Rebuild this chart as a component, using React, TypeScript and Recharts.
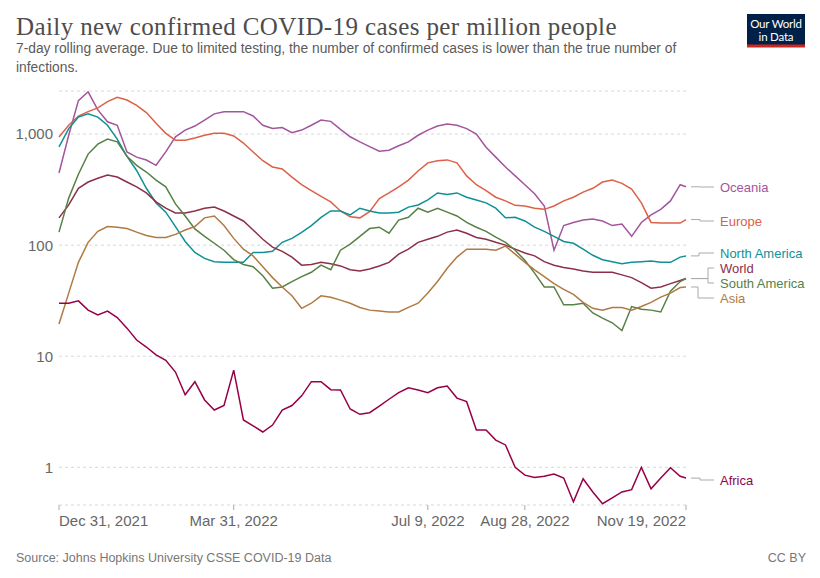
import { CartesianGrid, Line, LineChart, XAxis, YAxis } from 'recharts';

// days since Dec 31, 2021
const days = [
  0, 5, 10, 15, 20, 25, 30, 35, 40, 45, 50, 55, 60, 65, 70, 75, 80, 85, 90, 95, 100, 105, 110, 115, 120, 125, 130, 135,
  140, 145, 150, 155, 160, 165, 170, 175, 180, 185, 190, 195, 200, 205, 210, 215, 220, 225, 230, 235, 240, 245, 250, 255,
  260, 265, 270, 275, 280, 285, 290, 295, 300, 305, 310, 315, 320, 323,
];

const oceania = [
  446, 975, 2000, 2400, 1650, 1290, 1200, 690, 620, 583, 523, 690, 945, 1085, 1180, 1337, 1520, 1590, 1590, 1590, 1455, 1200,
  1120, 1145, 1030, 1085, 1200, 1337, 1300, 1100, 945, 850, 770, 700, 715, 785, 850, 975, 1085, 1180, 1230, 1200, 1120, 1000,
  760, 620, 505, 420, 350, 290, 225, 90, 150, 160, 168, 172, 165, 150, 155, 120, 160, 187, 210, 250, 350, 335,
];
const europe = [
  940, 1200, 1450, 1590, 1720, 1960, 2140, 2025, 1815, 1560, 1250, 1015, 880, 880, 920, 975, 1015, 1015, 960, 830, 690, 575,
  505, 485, 410, 350, 310, 275, 245, 203, 180, 176, 200, 262, 295, 335, 385, 465, 550, 575, 585, 550, 420, 350, 310, 270, 250,
  228, 225, 215, 210, 225, 250, 270, 300, 325, 370, 385, 360, 320, 240, 160, 158, 158, 158, 170,
];
const northAmerica = [
  765, 1120, 1420, 1520, 1420, 1200, 900, 630, 470, 325, 240, 198, 147, 108, 86, 76, 71, 70, 70, 70, 86, 86, 88, 106, 115, 130,
  150, 178, 203, 203, 187, 215, 203, 195, 195, 198, 220, 230, 255, 295, 285, 295, 270, 255, 240, 215, 176, 178, 165, 145, 133,
  120, 108, 104, 92, 81, 74, 71, 68, 70, 71, 72, 70, 70, 78, 80,
];
const world = [
  176, 230, 325, 370, 400, 428, 410, 370, 335, 295, 245, 215, 195, 195, 203, 215, 220, 203, 183, 165, 137, 113, 96, 88, 78, 66,
  67, 70, 68, 65, 60, 58.5, 61, 65, 70, 83, 92, 106, 113, 120, 131, 137, 128, 117, 113, 106, 100, 92, 85, 80, 71, 66, 63, 61,
  58.5, 57, 57, 57, 54, 51, 46, 41, 42, 45, 48, 50,
];
const southAmerica = [
  131, 265, 435, 660, 810, 900, 850, 630, 523, 455, 385, 335, 235, 183, 140, 120, 104, 90, 74, 67, 64, 53, 41, 42, 47, 52, 57,
  66, 60, 90, 102, 120, 141, 145, 128, 168, 178, 215, 198, 215, 198, 183, 160, 145, 133, 118, 106, 90, 73, 56, 42, 42, 29, 29,
  30, 24.5, 22, 20, 17, 28, 26.5, 26, 25, 38.5, 47, 50,
];
const asia = [
  19.5, 37, 70, 106, 133, 147, 145, 141, 131, 122, 117, 117, 125, 137, 147, 176, 183, 150, 115, 92, 80, 64, 51, 42, 35, 27, 30,
  35, 34, 32, 30, 27.5, 26, 25.5, 25, 25, 27.5, 30, 37, 47, 62, 78, 92, 92, 92, 90, 98, 83, 70, 60, 52, 45, 40, 36, 30.5, 27,
  26, 27.5, 27.5, 26, 28, 30.5, 34, 37, 41.5, 42,
];
const africa = [
  30, 30, 31.5, 26, 23.5, 25.5, 22.3, 17.9, 14, 12.1, 10.3, 9.2, 7.2, 4.5, 5.9, 4.04, 3.28, 3.6, 7.5, 2.67, 2.36, 2.08, 2.4,
  3.28, 3.6, 4.4, 5.9, 5.9, 5, 4.97, 3.35, 3, 3.1, 3.55, 4.1, 4.7, 5.2, 4.97, 4.7, 5.2, 5.4, 4.2, 3.9, 2.17, 2.17, 1.76, 1.59,
  1, 0.85, 0.81, 0.83, 0.87, 0.8, 0.49, 0.79, 0.6, 0.47, 0.53, 0.6, 0.63, 1, 0.64, 0.8, 0.99, 0.83, 0.8,
];

const tickDays = [0, 90, 190, 240, 323];
const tickLabels = ['Dec 31, 2021', 'Mar 31, 2022', 'Jul 9, 2022', 'Aug 28, 2022', 'Nov 19, 2022'];
const yTicks = [1, 10, 100, 1000];

const series = [
  { key: 'oceania', name: 'Oceania', values: oceania, color: '#a2559c', labelY: 187, elbow: 700 },
  { key: 'europe', name: 'Europe', values: europe, color: '#dd6048', labelY: 221, elbow: 700 },
  { key: 'northAmerica', name: 'North America', values: northAmerica, color: '#0f9094', labelY: 253, elbow: 699 },
  { key: 'world', name: 'World', values: world, color: '#8c3049', labelY: 268, elbow: 708 },
  { key: 'southAmerica', name: 'South America', values: southAmerica, color: '#578145', labelY: 283, elbow: 708 },
  { key: 'asia', name: 'Asia', values: asia, color: '#b07a42', labelY: 298, elbow: 698 },
  { key: 'africa', name: 'Africa', values: africa, color: '#970046', labelY: 480, elbow: 700 },
];

const data = days.map((day, i) => {
  const row: Record<string, number> = { day };
  series.forEach((s) => {
    row[s.key] = s.values[i];
  });
  return row;
});

const sans = "'Liberation Sans', Arial, sans-serif";

function XTick({ x, y, payload, index }: any) {
  const anchor = index === 0 ? 'start' : index === tickDays.length - 1 ? 'end' : 'middle';
  const i = tickDays.indexOf(payload.value);
  return (
    <g>
      <line x1={x} x2={x} y1={y} y2={y + 5} stroke="#aaa" />
      <text x={x} y={y + 21} textAnchor={anchor} fontSize={15} fontFamily={sans} fill="#666">
        {tickLabels[i]}
      </text>
    </g>
  );
}

function YTick({ x, y, payload }: any) {
  return (
    <text x={x} y={y + 5.4} textAnchor="end" fontSize={15} fontFamily={sans} fill="#666">
      {payload.value.toLocaleString('en-US')}
    </text>
  );
}

function endLabel(s: (typeof series)[number]) {
  return (props: any) => {
    if (props.index !== days.length - 1) return <g />;
    const { x, y } = props;
    return (
      <g>
        <path
          d={`M${x + 5},${y} H${s.elbow} V${s.labelY} H714`}
          fill="none"
          stroke="#aaa"
          strokeWidth={1}
        />
        <text x={720} y={s.labelY + 4.5} fontSize={13} fontFamily={sans} fill={s.color}>
          {s.name}
        </text>
      </g>
    );
  };
}

export default function App() {
  return (
    <div style={{ position: 'absolute', left: 0, top: 0, width: 820, height: 578, background: '#fff' }}>
      <LineChart width={820} height={578} data={data} margin={{ top: 91, right: 134, bottom: 43, left: 8 }}>
        <CartesianGrid stroke="#d8d8d8" strokeDasharray="3 3" vertical={false} />
        <XAxis
          dataKey="day"
          type="number"
          domain={[0, 323]}
          ticks={tickDays}
          tick={<XTick />}
          tickLine={false}
          axisLine={false}
          tickSize={0}
          tickMargin={0}
          height={30}
          interval={0}
        />
        <YAxis
          scale="log"
          domain={[0.458, 2440]}
          allowDataOverflow
          ticks={yTicks}
          tick={<YTick />}
          tickLine={false}
          axisLine={false}
          width={51}
          tickSize={0}
          tickMargin={6}
          interval={0}
        />
        {series.map((s) => (
          <Line
            key={s.key}
            dataKey={s.key}
            stroke={s.color}
            strokeWidth={1.5}
            dot={false}
            type="linear"
            isAnimationActive={false}
            label={endLabel(s)}
          />
        ))}
      </LineChart>
      <svg width={820} height={578} style={{ position: 'absolute', left: 0, top: 0, pointerEvents: 'none' }}>
        <text x={16} y={35} fontFamily="'Liberation Serif', 'Times New Roman', serif" fontSize={25} letterSpacing={0.4} fill="#4d4d4d">
          Daily new confirmed COVID-19 cases per million people
        </text>
        <text x={16} y={53} fontFamily={sans} fontSize={13.8} fill="#5b5b5b">
          7-day rolling average. Due to limited testing, the number of confirmed cases is lower than the true number of
        </text>
        <text x={16} y={71.5} fontFamily={sans} fontSize={13.8} fill="#5b5b5b">
          infections.
        </text>
        <rect x={747} y={14} width={58} height={33} fill="#002147" />
        <rect x={747} y={44.5} width={58} height={3} fill="#ce261e" />
        <text x={776} y={28} textAnchor="middle" fontFamily="Lato, sans-serif" fontSize={11.5} letterSpacing={-0.2} fill="#fff">
          Our World
        </text>
        <text x={776} y={40.5} textAnchor="middle" fontFamily="Lato, sans-serif" fontSize={11.5} letterSpacing={-0.2} fill="#fff">
          in Data
        </text>
        <text x={16} y={561.5} fontFamily={sans} fontSize={12.5} fill="#777">
          Source: Johns Hopkins University CSSE COVID-19 Data
        </text>
        <text x={806} y={561.5} textAnchor="end" fontFamily={sans} fontSize={12.5} fill="#777">
          CC BY
        </text>
      </svg>
    </div>
  );
}
